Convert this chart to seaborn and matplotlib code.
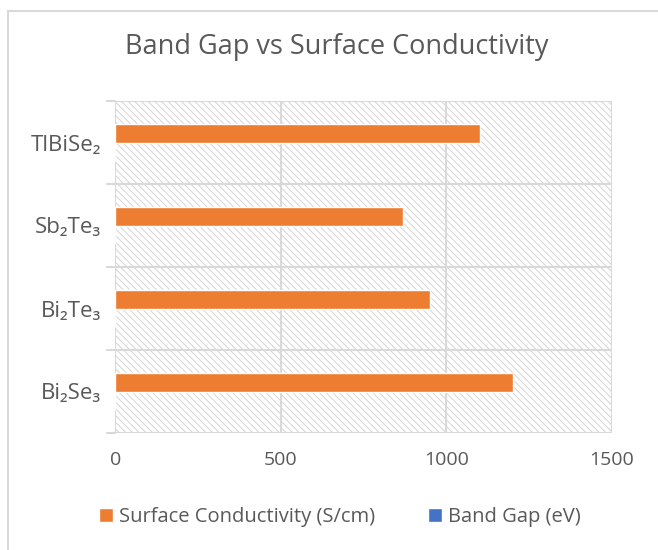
import matplotlib
matplotlib.use("Agg")
import matplotlib.pyplot as plt
import seaborn as sns
import pandas as pd
from matplotlib.patches import Patch, Rectangle

# data
materials = ["TlBiSe₂", "Sb₂Te₃", "Bi₂Te₃", "Bi₂Se₃"]
conductivity = [1100, 870, 950, 1200]   # S/cm
band_gap = [0.35, 0.28, 0.15, 0.30]     # eV
series = ["Surface Conductivity (S/cm)", "Band Gap (eV)"]
xticks = [0, 500, 1000, 1500]

orange = "#ED7D31"
blue = "#4472C4"
grey_txt = "#595959"
grid_c = "#D9D9D9"

df = pd.DataFrame({
    "material": materials * 2,
    "value": conductivity + band_gap,
    "series": [series[0]] * 4 + [series[1]] * 4,
})

sns.set_style("white")
plt.rcParams["font.family"] = ["Open Sans", "DejaVu Sans"]
plt.rcParams["hatch.color"] = "#D4D4D4"
plt.rcParams["hatch.linewidth"] = 0.7

fig = plt.figure(figsize=(6.58, 5.5), dpi=100)
ax = fig.add_axes([115.3 / 658, 1 - 433 / 550, (612 - 115.3) / 658, (433 - 101) / 550])

# hatched plot area
ax.patch.set_facecolor("white")
ax.patch.set_hatch("\\\\\\\\\\")
ax.patch.set_edgecolor("#D4D4D4")

sns.barplot(data=df, y="material", x="value", hue="series", order=materials,
            hue_order=series, palette=[orange, blue], width=0.44, orient="y",
            saturation=1, ax=ax, legend=False, zorder=3)

ax.set_xlim(0, 1500)
ax.set_ylim(3.5, -0.5)
ax.set_xticks(xticks)
ax.set_xticklabels([str(t) for t in xticks])
ax.set_xlabel("")
ax.set_ylabel("")

# grid lines
for t in xticks:
    ax.axvline(t, color=grid_c, lw=1.5, zorder=1)
for b in [-0.5, 0.5, 1.5, 2.5, 3.5]:
    ax.axhline(b, color=grid_c, lw=1.5, zorder=1)
    ax.plot([-0.016, 0], [b, b], color=grid_c, lw=1.5,
            transform=ax.get_yaxis_transform(), clip_on=False)
for s in ax.spines.values():
    s.set_visible(False)

ax.tick_params(axis="both", length=0, colors=grey_txt)
ax.tick_params(axis="x", pad=13, labelsize=14)
ax.tick_params(axis="y", pad=10, labelsize=16)

fig.text(337 / 658, 1 - 47 / 550, "Band Gap vs Surface Conductivity",
         ha="center", va="center", fontsize=19.5, color=grey_txt)

handles = [Patch(facecolor=orange, label=series[0]),
           Patch(facecolor=blue, label=series[1])]
fig.legend(handles=handles, loc="center", bbox_to_anchor=(340 / 658, 1 - 517 / 550),
           ncol=2, frameon=False, fontsize=14.5, labelcolor=grey_txt,
           handlelength=0.7, handleheight=0.7, handletextpad=0.3, columnspacing=2.6)

# chart border
fig.patches.append(Rectangle((7.5 / 658, -0.1), 1.2, 1 - 11 / 550 + 0.1,
                             transform=fig.transFigure, fill=False,
                             edgecolor=grid_c, lw=1.5))

fig.savefig("out.png", dpi=100)
